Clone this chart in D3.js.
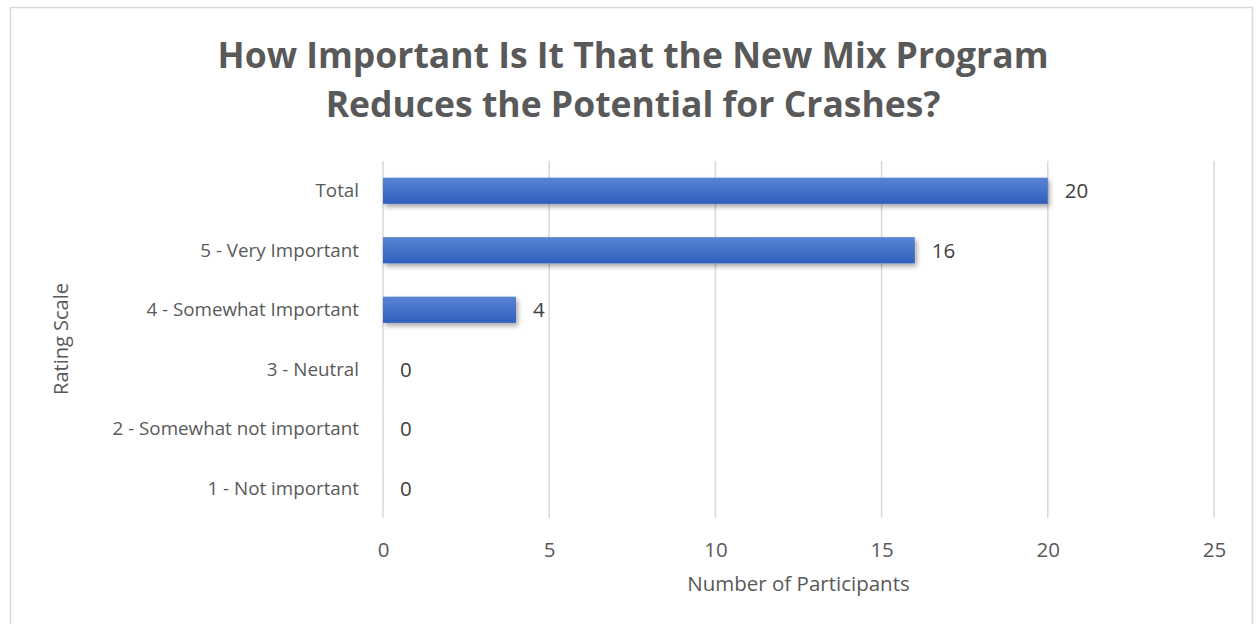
<!DOCTYPE html>
<html><head><meta charset="utf-8">
<script src="https://cdn.jsdelivr.net/npm/d3@7"></script>
<style>html,body{margin:0;padding:0;background:#fff;}svg{display:block;}</style>
</head><body>
<svg id="c" width="1257" height="624"></svg>
<script>
const categories = ["Total","5 - Very Important","4 - Somewhat Important","3 - Neutral","2 - Somewhat not important","1 - Not important"];
const values = [20,16,4,0,0,0];
const xTicks = [0,5,10,15,20,25];
const titleLines = ["How Important Is It That the New Mix Program","Reduces the Potential for Crashes?"];
const xTitle = "Number of Participants";
const yTitle = "Rating Scale";

const svg = d3.select("#c");
const font = "'Open Sans', 'Liberation Sans', sans-serif";
const grey = "#595959";
const m = {left:383, right:1214, top:161, bottom:518};

const defs = svg.append("defs");
const g = defs.append("linearGradient").attr("id","bg").attr("x1",0).attr("y1",0).attr("x2",0).attr("y2",1);
g.append("stop").attr("offset","0%").attr("stop-color","#5a84d3");
g.append("stop").attr("offset","100%").attr("stop-color","#2f5fbe");
const f = defs.append("filter").attr("id","sh").attr("x","-10%").attr("y","-30%").attr("width","130%").attr("height","180%");
f.append("feDropShadow").attr("dx",2).attr("dy",3).attr("stdDeviation",2.5).attr("flood-color","#000").attr("flood-opacity",0.35);

svg.append("rect").attr("x",10.5).attr("y",7.5).attr("width",1242).attr("height",630)
  .attr("fill","#fff").attr("stroke","#d9d9d9").attr("stroke-width",1.5);

const x = d3.scaleLinear().domain([0,25]).range([m.left,m.right]);
const y = d3.scaleBand().domain(categories).range([m.top,m.bottom]).paddingInner(0.56).paddingOuter(0.28);

// gridlines
svg.append("g").selectAll("line").data(xTicks).join("line")
  .attr("x1",d=>x(d)).attr("x2",d=>x(d)).attr("y1",m.top).attr("y2",m.bottom)
  .attr("stroke","#d9d9d9").attr("stroke-width",1.5);

// x axis labels
const xAxis = d3.axisBottom(x).tickValues(xTicks).tickSize(0).tickPadding(0);
const xa = svg.append("g").attr("transform",`translate(0,${m.bottom})`).call(xAxis);
xa.select(".domain").remove();
xa.selectAll("text").attr("dy",0).attr("y",39).attr("font-family",font).attr("font-size",20.5).attr("fill",grey);

// y axis labels
const yAxis = d3.axisLeft(y).tickSize(0).tickPadding(24);
const ya = svg.append("g").attr("transform",`translate(${m.left},0)`).call(yAxis);
ya.select(".domain").remove();
ya.selectAll("text").attr("font-family",font).attr("font-size",18.8).attr("fill",grey).attr("dy","0.35em");

// bars
svg.append("g").selectAll("rect").data(values).join("rect")
  .attr("x",x(0)).attr("y",(d,i)=>y(categories[i])).attr("width",d=>Math.max(x(d)-x(0),0.01))
  .attr("height",y.bandwidth()).attr("fill","url(#bg)").attr("filter","url(#sh)");

// data labels
svg.append("g").selectAll("text").data(values).join("text")
  .attr("x",d=>x(d)+17).attr("y",(d,i)=>y(categories[i])+y.bandwidth()/2).attr("dy","0.36em")
  .attr("font-family",font).attr("font-size",20.5).attr("fill","#404040").text(d=>d);

// title
svg.append("g").selectAll("text").data(titleLines).join("text")
  .attr("x",633).attr("y",(d,i)=>68+i*49).attr("text-anchor","middle")
  .attr("font-family",font).attr("font-weight","bold").attr("font-size",35.5).attr("fill",grey).text(d=>d);

svg.append("text").attr("x",(m.left+m.right)/2).attr("y",591).attr("text-anchor","middle")
  .attr("font-family",font).attr("font-size",20.5).attr("fill",grey).text(xTitle);
svg.append("text").attr("transform","translate(68,339) rotate(-90)").attr("text-anchor","middle")
  .attr("font-family",font).attr("font-size",20).attr("fill",grey).text(yTitle);
</script>
</body></html>
